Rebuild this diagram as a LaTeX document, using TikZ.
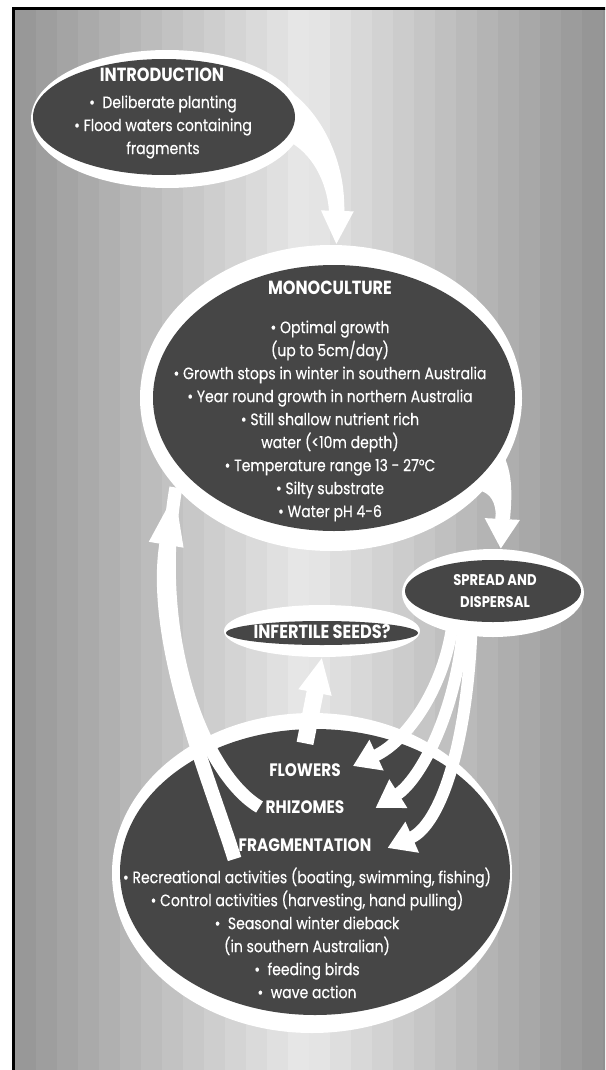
\documentclass[tikz,border=0pt]{standalone}
\usepackage{fontspec}
\setmainfont{Poppins}[FakeStretch=0.85]
\newfontfamily\bodyfont{Poppins}[FakeStretch=0.85, FakeBold=0.35]
\usetikzlibrary{arrows.meta,shapes.geometric,calc}
\definecolor{ellgray}{HTML}{464646}
\tikzset{
  ringell/.style={ellipse, fill=white, draw=none, inner sep=0pt},
  darkell/.style={ellipse, fill=ellgray, draw=none, inner sep=0pt},
  txt/.style={text=white, align=center, inner sep=0pt, font=\bodyfont\fontsize{16.5}{23}\selectfont},
  headtxt/.style={text=white, align=center, inner sep=0pt, font=\fontsize{19}{22}\selectfont\bfseries},
  spreadtxt/.style={text=white, align=center, inner sep=0pt, font=\fontsize{15.5}{22}\selectfont\bfseries},
  labtxt/.style={text=white, align=center, inner sep=0pt, font=\fontsize{18}{22}\selectfont\bfseries},
  warr/.style n args={3}{draw=white, line width=#1, -{Triangle[length=#2, width=#3]}},
  wedge/.style={fill=white, draw=none}
}
\begin{document}
\begin{tikzpicture}[x=1pt,y=-1pt]
\useasboundingbox (0,0) rectangle (605,1070);
\clip (0,0) rectangle (605,1070);
\fill[white] (0,0) rectangle (605,1070);
% background stripes
\foreach \i in {0,...,28} {
  \pgfmathsetmacro{\xl}{15+21*\i}
  \pgfmathsetmacro{\lev}{91-33*abs(\xl+10.5-305)/294}
  \fill[white!\lev!black] (\xl,9) rectangle ({\xl+21.5},1075);
}
\draw[line width=3pt] (13.5,1075) -- (13.5,8.5) -- (612,8.5);

% white rings
\node[ringell, minimum width=272pt, minimum height=138pt] (introRing) at (167,119) {};
\node[ringell, minimum width=382pt, minimum height=306pt] (monoRing) at (331,398) {};
\node[ringell, minimum width=182pt, minimum height=88pt] (spreadRing) at (493,593) {};
\node[ringell, minimum width=196pt, minimum height=52pt] (seedsRing) at (322,631) {};
\node[ringell, minimum width=400pt, minimum height=320pt] (fragRing) at (312,873) {};

% dark ellipse of the fragmentation block (arrows lie over it)
\node[darkell, minimum width=390pt, minimum height=286pt] (frag) at (315,872) {};

% labels inside fragmentation (needed as anchors)
\node[labtxt] (flowers) at (305,770) {FLOWERS};
\node[labtxt] (rhiz) at (305,807) {RHIZOMES};
\node[labtxt] (fragm) at (305,845) {FRAGMENTATION};

% dark ellipse outlines (anchors), filled later
\path (164,117) node[ellipse, inner sep=0pt, minimum width=262pt, minimum height=116pt] (intro) {};
\path (334,398) node[ellipse, inner sep=0pt, minimum width=362pt, minimum height=266pt] (mono) {};
\path (493,591) node[ellipse, inner sep=0pt, minimum width=176pt, minimum height=62pt] (spread) {};
\path (322,633) node[ellipse, inner sep=0pt, minimum width=192pt, minimum height=24pt] (seeds) {};

% arrows (tapered shafts + heads)
\fill[wedge] (291,92) .. controls (326,118) and (346,168) .. (344,211) -- (329,211) .. controls (327,182) and (312,152) .. (286,140) -- cycle;
\draw[warr={14pt}{34pt}{30pt}] (intro.east) .. controls (328,140) and (338,190) .. (monoRing.88);
\fill[wedge] (498,446) .. controls (514,468) and (512,496) .. (510,519) -- (496,519) .. controls (496,502) and (491,493) .. (478,490) -- cycle;
\draw[warr={14pt}{30pt}{33pt}] (mono.-24) .. controls (510,478) and (503,505) .. (spreadRing.80);
\draw[warr={17pt}{36pt}{31pt}] ([yshift=20pt]flowers.north) -- (seedsRing.south);
\draw[warr={12pt}{26pt}{32pt}] (spread.-145) .. controls (445,690) and (405,742) .. ($(flowers.east)+(12,-4)$);
\draw[warr={12pt}{27pt}{32pt}] (spread.-135) .. controls (458,710) and (420,780) .. ($(rhiz.east)+(31,1)$);
\draw[warr={12pt}{27pt}{32pt}] (spread.-125) .. controls (468,745) and (440,825) .. ($(fragm.east)+(16,3)$);
\draw[draw=white, line width=13pt] ([xshift=-6pt]rhiz.west) .. controls (205,775) and (150,640) .. (monoRing.210);
\draw[warr={14pt}{58pt}{30pt}] ([xshift=-4pt,yshift=-14pt]fragm.west) .. controls (210,780) and (150,640) .. (monoRing.210);

% dark ellipses
\fill[ellgray] (intro.center) ellipse [x radius=131pt, y radius=58pt];
\fill[ellgray] (mono.center) ellipse [x radius=181pt, y radius=133pt];
\fill[ellgray] (spread.center) ellipse [x radius=88pt, y radius=31pt];
\fill[ellgray] (seeds.center) ellipse [x radius=96pt, y radius=12pt];

% texts
\node[headtxt] (introH) at (162,75) {INTRODUCTION};
\node[txt] (introB) at (163,127) {•\ \ Deliberate planting\\• Flood waters containing\\fragments};
\node[headtxt] (monoH) at (330,288) {MONOCULTURE};
\node[txt] (monoB) at (330,421) {• Optimal growth\\(up to 5cm/day)\\• Growth stops in winter in southern Australia\\• Year round growth in northern Australia\\• Still shallow nutrient rich\\water (<10m depth)\\• Temperature range 13 - 27°C\\• Silty substrate\\• Water pH 4-6};
\node[spreadtxt] (spreadT) at (495,591) {SPREAD AND\\DISPERSAL};
\node[headtxt] (seedsT) at (322,632) {INFERTILE SEEDS?};
\node[txt] (fragB) at (307,933) {• Recreational activities (boating, swimming, fishing)\\• Control activities (harvesting, hand pulling)\\•\ \ Seasonal winter dieback\\(in southern Australian)\\•\ \ feeding birds\\•\ \ wave action};
\end{tikzpicture}
\end{document}
